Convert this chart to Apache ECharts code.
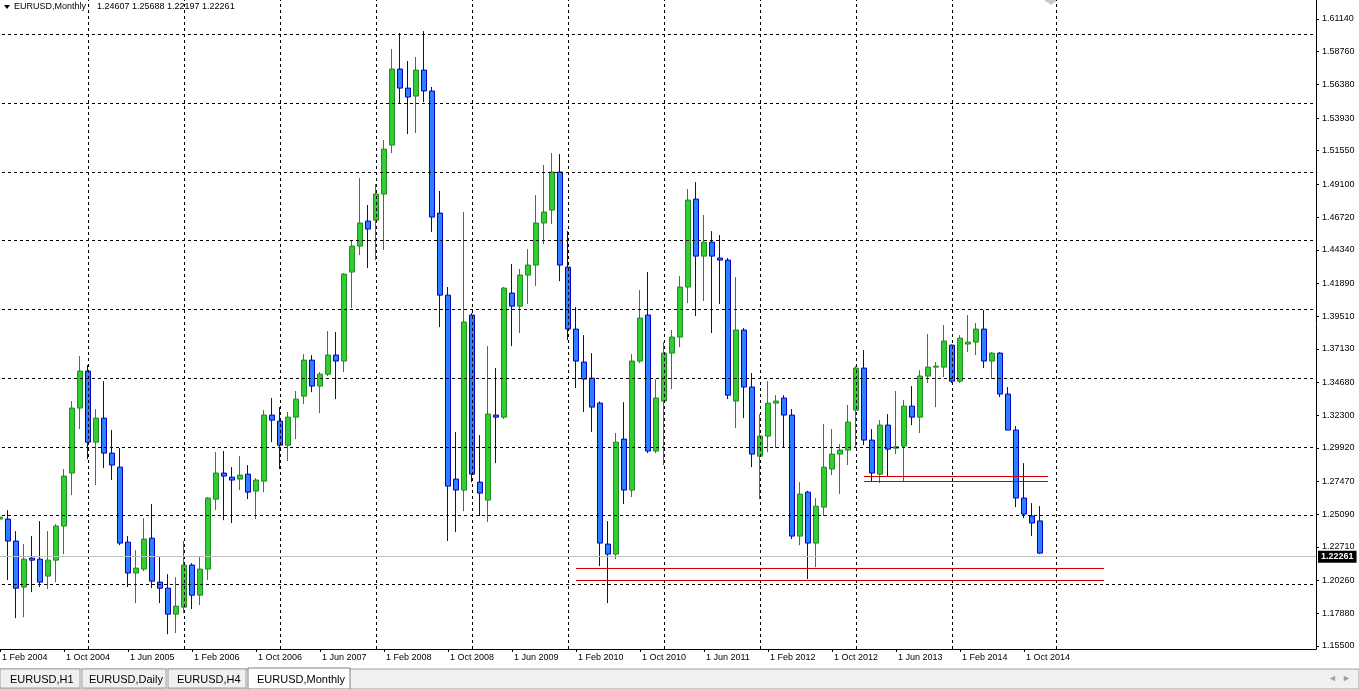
<!DOCTYPE html>
<html><head><meta charset="utf-8">
<script src="https://cdn.jsdelivr.net/npm/echarts@6/dist/echarts.min.js"></script>
<style>html,body{margin:0;padding:0;background:#fff;overflow:hidden;width:1359px;height:689px;position:relative;}#c{position:absolute;left:-4px;top:0;width:1363px;height:689px;}</style>
</head><body><div id="c"></div>
<script>
const monthNames=['Jan','Feb','Mar','Apr','May','Jun','Jul','Aug','Sep','Oct','Nov','Dec'];
const categories=[];
for(let i=0;i<165;i++){const m=(1+i)%12,y=2004+Math.floor((1+i)/12);categories.push('1 '+monthNames[m]+' '+y);}
const opens=[1.2474,1.2474,1.2314,1.1979,1.2190,1.2182,1.2059,1.2175,1.2423,1.2809,
1.3282,1.3551,1.3034,1.3209,1.2954,1.2852,1.2306,1.2081,1.2110,1.2335,
1.2015,1.1971,1.1782,1.1833,1.2139,1.1920,1.2110,1.2619,1.2809,1.2779,
1.2765,1.2801,1.2678,1.2750,1.3231,1.3187,1.3012,1.3216,1.3369,1.3631,
1.3442,1.3529,1.3668,1.3624,1.4272,1.4461,1.4643,1.4650,1.4840,1.5196,
1.5750,1.5611,1.5553,1.5742,1.5590,1.4701,1.4104,1.2765,1.2685,1.3959,
1.2743,1.2612,1.3231,1.3216,1.4119,1.4024,1.4250,1.4323,1.4629,1.4723,
1.5000,1.4308,1.3857,1.3617,1.3500,1.3318,1.2292,1.2219,1.3056,1.2685,
1.3624,1.3959,1.2969,1.3333,1.3682,1.3799,1.4163,1.4803,1.4388,1.4490,
1.4374,1.4359,1.3333,1.3850,1.3435,1.2932,1.3078,1.3318,1.3355,1.3231,
1.2350,1.2670,1.2299,1.2561,1.2838,1.2947,1.2976,1.3267,1.3573,1.3049,
1.2801,1.3158,1.2990,1.3005,1.3296,1.3216,1.3515,1.3580,1.3580,1.3740,
1.3478,1.3748,1.3762,1.3857,1.3624,1.3682,1.3384,1.3122,1.2627,1.2496,
1.24607];
const closes=[1.2488,1.2314,1.1971,1.2182,1.2175,1.2015,1.2175,1.2423,1.2787,1.3282,
1.3551,1.3034,1.3209,1.2954,1.2867,1.2299,1.2081,1.2117,1.2328,1.2022,
1.1971,1.1782,1.1840,1.2139,1.1920,1.2110,1.2627,1.2809,1.2787,1.2758,
1.2794,1.2670,1.2758,1.3231,1.3194,1.3012,1.3216,1.3347,1.3631,1.3442,
1.3529,1.3668,1.3624,1.4257,1.4461,1.4629,1.4585,1.4840,1.5167,1.5750,
1.5611,1.5546,1.5742,1.5590,1.4672,1.4104,1.2714,1.2685,1.3908,1.2801,
1.2663,1.3238,1.3216,1.4155,1.4024,1.4250,1.4323,1.4629,1.4709,1.5000,
1.4323,1.3857,1.3624,1.3493,1.3289,1.2299,1.2219,1.3034,1.2685,1.3624,
1.3937,1.2969,1.3355,1.3682,1.3799,1.4163,1.4796,1.4388,1.4490,1.4388,
1.4359,1.3376,1.3850,1.3435,1.2947,1.3078,1.3318,1.3333,1.3231,1.2350,
1.2656,1.2299,1.2568,1.2852,1.2947,1.2976,1.3180,1.3573,1.3049,1.2809,
1.3158,1.2983,1.3000,1.3296,1.3216,1.3515,1.3580,1.3587,1.3770,1.3478,
1.3791,1.3762,1.3857,1.3624,1.3682,1.3384,1.3122,1.2627,1.2510,1.2445,
1.22261];
const lows=[1.2357,1.2030,1.1753,1.1760,1.1942,1.1979,1.1964,1.2015,1.2219,1.2648,
1.3129,1.2910,1.2721,1.2845,1.2758,1.2284,1.1979,1.1862,1.2095,1.1971,
1.1862,1.1636,1.1644,1.1789,1.1819,1.1848,1.2030,1.2539,1.2466,1.2445,
1.2685,1.2619,1.2474,1.2670,1.3034,1.2838,1.2896,1.3056,1.3311,1.3398,
1.3245,1.3515,1.3347,1.3544,1.4010,1.4396,1.4301,1.4359,1.4432,1.5138,
1.5502,1.5276,1.5284,1.5509,1.4563,1.3871,1.2314,1.2379,1.2532,1.2743,
1.2496,1.2452,1.2881,1.3202,1.3733,1.3828,1.4039,1.4170,1.4476,1.4621,
1.4206,1.3777,1.3427,1.3253,1.3107,1.2132,1.1862,1.2182,1.2583,1.2634,
1.3609,1.2954,1.2954,1.2867,1.3420,1.3726,1.4046,1.3952,1.4061,1.3828,
1.4039,1.3347,1.3136,1.3209,1.2852,1.2619,1.2961,1.2991,1.2991,1.2328,
1.2284,1.2037,1.2124,1.2496,1.2794,1.2656,1.2867,1.2998,1.3012,1.2743,
1.2736,1.2787,1.2947,1.2750,1.3158,1.3100,1.3464,1.3289,1.3508,1.3465,
1.3465,1.3689,1.3668,1.3573,1.3493,1.3362,1.3122,1.2561,1.2481,1.2350,
1.22197];
const highs=[1.2925,1.2539,1.2386,1.2292,1.2350,1.2459,1.2386,1.2437,1.2838,1.3333,
1.3660,1.3595,1.3274,1.3478,1.3122,1.2991,1.2350,1.2248,1.2481,1.2583,
1.2197,1.2073,1.2051,1.2314,1.2153,1.2197,1.2634,1.2961,1.2969,1.2852,
1.2932,1.2867,1.2772,1.3267,1.3355,1.3289,1.3253,1.3406,1.3675,1.3668,
1.3544,1.3842,1.3835,1.4265,1.4505,1.4956,1.4760,1.4912,1.5233,1.5895,
1.6012,1.5808,1.5837,1.6026,1.5619,1.4862,1.4163,1.3107,1.4709,1.3973,
1.3085,1.3733,1.3573,1.4163,1.4330,1.4294,1.4439,1.4832,1.5051,1.5138,
1.5131,1.4570,1.4017,1.3813,1.3682,1.3330,1.2459,1.3100,1.3325,1.3675,
1.4141,1.4272,1.3493,1.3762,1.3850,1.4243,1.4876,1.4927,1.4687,1.4570,
1.4541,1.4374,1.4235,1.3864,1.3537,1.3238,1.3478,1.3376,1.3376,1.3275,
1.2743,1.2680,1.2627,1.3165,1.3129,1.3020,1.3304,1.3588,1.3704,1.3129,
1.3194,1.3238,1.3406,1.3340,1.3442,1.3558,1.3821,1.3617,1.3886,1.3745,
1.3813,1.3959,1.3901,1.3995,1.3689,1.3689,1.3435,1.3151,1.2881,1.2590,
1.25688];
const priceLabels=[1.61140,1.58760,1.56380,1.53930,1.51550,1.49100,1.46720,1.44340,1.41890,1.39510,1.37130,1.34680,1.32300,1.29920,1.27470,1.25090,1.22710,1.20260,1.17880,1.15500];
const hGrid=[1.20,1.25,1.30,1.35,1.40,1.45,1.50,1.55,1.60];
const vGridIdx=[11,23,35,47,59,71,83,95,107,119,132];
const lastPrice=1.22261;
const supportLow=[1.2118,1.2030], supportLowRange=[72,138];
const supportHigh=[1.2787,1.2751], supportHighRange=[108,131];
const headerName='EURUSD,Monthly', headerValues='1.24607 1.25688 1.22197 1.22261';

const ohlc=opens.map((o,i)=>[o,closes[i],lows[i],highs[i]]);
const FONT='Liberation Sans';
const X=4;
const red={color:'#d40000',width:1,type:'solid'};
const gridStyle={color:'#000',width:1,type:[3,3]};
const chart=echarts.init(document.getElementById('c'));
const redLines=[];
supportLow.forEach(v=>redLines.push([{coord:[categories[supportLowRange[0]],v],lineStyle:red},{coord:[categories[supportLowRange[1]],v]}]));
supportHigh.forEach(v=>redLines.push([{coord:[categories[supportHighRange[0]],v],lineStyle:red},{coord:[categories[supportHighRange[1]],v]}]));
chart.setOption({
  animation:false,
  backgroundColor:'#fff',
  grid:{left:0,right:43,top:0,bottom:40},
  xAxis:{type:'category',data:categories,boundaryGap:true,
    axisLine:{show:true,lineStyle:{color:'#000',width:1}},
    axisTick:{show:true,length:3,alignWithLabel:true,interval:(i)=>i%8===0&&i<=128,lineStyle:{color:'#000'}},
    axisLabel:{interval:(i)=>i%8===0&&i<=128,align:'left',margin:4,color:'#000',fontFamily:FONT,fontSize:9,padding:[0,0,0,2]},
    splitLine:{show:false}},
  yAxis:{type:'value',position:'right',min:1.15282,max:1.62523,
    axisLine:{show:true,lineStyle:{color:'#000',width:1}},
    axisTick:{show:true,length:3,customValues:priceLabels,lineStyle:{color:'#000'}},
    axisLabel:{customValues:priceLabels,formatter:v=>v.toFixed(5),color:'#000',fontFamily:FONT,fontSize:9,margin:6},
    splitLine:{show:false}},
  graphic:[
    {type:'polygon',shape:{points:[[X+4,5],[X+10,5],[X+7,9]]},style:{fill:'#000'}},
    {type:'text',left:X+14,top:2,style:{text:headerName,fontFamily:FONT,fontSize:9,fill:'#000'}},
    {type:'text',left:X+97,top:2,style:{text:headerValues,fontFamily:FONT,fontSize:9,fill:'#000'}},
    {type:'polygon',shape:{points:[[X+1044,0],[X+1058,0],[X+1051,5]]},style:{fill:'#c8c8c8'}},
    {type:'rect',shape:{x:X,y:669,width:1359,height:20},style:{fill:'#f0f0f0',stroke:'#a0a0a0',lineWidth:1}},
    {type:'rect',shape:{x:X,y:669,width:80,height:19},style:{fill:'#f0f0f0',stroke:'#a0a0a0'}},
    {type:'text',left:X+10,top:674,style:{text:'EURUSD,H1',fontFamily:FONT,fontSize:11,fill:'#000'}},
    {type:'rect',shape:{x:X+82,y:669,width:84,height:19},style:{fill:'#f0f0f0',stroke:'#a0a0a0'}},
    {type:'text',left:X+89,top:674,style:{text:'EURUSD,Daily',fontFamily:FONT,fontSize:11,fill:'#000'}},
    {type:'rect',shape:{x:X+168,y:669,width:78,height:19},style:{fill:'#f0f0f0',stroke:'#a0a0a0'}},
    {type:'text',left:X+177,top:674,style:{text:'EURUSD,H4',fontFamily:FONT,fontSize:11,fill:'#000'}},
    {type:'rect',shape:{x:X+248,y:668,width:102,height:21},style:{fill:'#fff',stroke:'#808080'}},
    {type:'text',left:X+257,top:674,style:{text:'EURUSD,Monthly',fontFamily:FONT,fontSize:11,fill:'#000'}},
    {type:'text',left:X+1328,top:674,style:{text:'◄  ►',fontFamily:FONT,fontSize:9,fill:'#a0a0a0'}}
  ],
  series:[
    {type:'line',data:[],z:1,silent:true,
      markLine:{silent:true,symbol:'none',label:{show:false},animation:false,
        data:[...hGrid.map(v=>({yAxis:v,lineStyle:gridStyle})),
              ...vGridIdx.map(i=>({xAxis:categories[i],lineStyle:gridStyle}))]}},
    {type:'candlestick',data:ohlc,z:3,barWidth:5,
      itemStyle:{color:'#32CD32',borderColor:'#1E8C1E',color0:'#2A80FF',borderColor0:'#0000C8',borderWidth:1},
      markLine:{silent:true,symbol:'none',animation:false,z:5,
        label:{show:false},
        data:[...redLines,
          {yAxis:lastPrice,lineStyle:{color:'#c0c0c0',width:1,type:'solid'},
           label:{show:true,position:'end',distance:2,formatter:'1.22261',backgroundColor:'#000',color:'#fff',fontFamily:FONT,fontSize:9,fontWeight:'bold',padding:[2,3,1,3]}}]}}
  ]
});
</script></body></html>
